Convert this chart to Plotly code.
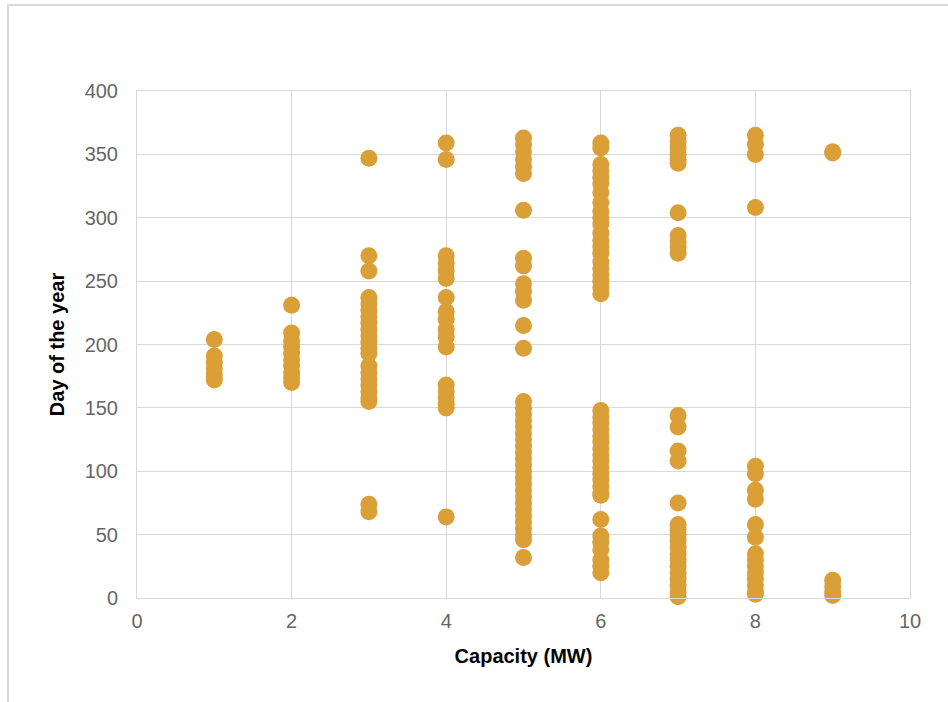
import plotly.graph_objects as go

cap_1 = [204, 191, 186, 181, 176, 172]
cap_2 = [231, 209, 203, 198, 193, 188, 183, 178, 174, 170]
cap_3 = [347, 270, 258, 237, 232, 227, 222, 217, 212, 207, 202, 197, 193,
         183, 178, 173, 168, 163, 158, 155, 74, 68]
cap_4 = [359, 346, 270, 264, 258, 252, 237, 226, 220, 212, 206, 198,
         168, 163, 158, 153, 150, 64]
cap_5 = [363, 358, 352, 346, 340, 335, 306, 268, 262, 248, 242, 235, 215, 197,
         155, 150, 145, 140, 135, 130, 125, 120, 115, 110, 105, 100, 95, 90,
         85, 80, 75, 70, 65, 60, 55, 50, 46, 32]
cap_6 = [359, 355, 342, 337, 332, 327, 320, 312, 305, 300, 295, 288, 282, 277,
         272, 265, 260, 255, 250, 245, 240,
         148, 143, 138, 133, 128, 123, 118, 113, 108, 103, 98, 93, 88, 83, 81,
         62, 49, 44, 38, 30, 25, 20]
cap_7 = [365, 360, 355, 350, 346, 343, 304, 286, 281, 277, 272,
         144, 135, 116, 108, 75, 58, 54, 50, 45, 40, 35, 30, 25, 20, 15, 10, 5, 1]
cap_8 = [365, 358, 350, 308, 104, 98, 85, 78, 58, 48, 35, 30, 25, 20, 15, 10, 5, 3]
cap_9 = [352, 351, 14, 9, 5, 2]

groups = {1: cap_1, 2: cap_2, 3: cap_3, 4: cap_4, 5: cap_5,
          6: cap_6, 7: cap_7, 8: cap_8, 9: cap_9}

xs, ys = [], []
for c, days in groups.items():
    xs += [c] * len(days)
    ys += days

fig = go.Figure(go.Scatter(
    x=xs, y=ys, mode="markers", cliponaxis=False,
    marker=dict(color="#DA9F37", size=17, line=dict(width=0)),
    hoverinfo="x+y", showlegend=False))

tickfont = dict(family="Liberation Sans, Arial", size=20, color="#666666")
titlefont = dict(family="Liberation Sans, Arial", size=20, color="black")
grid = "#D9D9D9"

fig.update_layout(
    width=948, height=702,
    margin=dict(l=137, r=38, t=91, b=104),
    paper_bgcolor="white", plot_bgcolor="white",
    xaxis=dict(range=[0, 10], tickvals=[0, 2, 4, 6, 8, 10], showgrid=True,
               gridcolor=grid, gridwidth=1, zeroline=False, showline=True,
               linecolor=grid, mirror=True, tickfont=tickfont, ticks="",
               ticklabelstandoff=5,
               title=dict(text="<b>Capacity (MW)</b>", standoff=17, font=titlefont)),
    yaxis=dict(range=[0, 400], tickvals=[0, 50, 100, 150, 200, 250, 300, 350, 400],
               showgrid=True, gridcolor=grid, gridwidth=1, zeroline=False,
               showline=True, linecolor=grid, mirror=True, tickfont=tickfont, ticks="",
               ticklabelstandoff=14,
               title=dict(text="<b>Day of the year</b>", standoff=14, font=titlefont)),
    shapes=[dict(type="rect", xref="paper", yref="paper",
                 x0=-0.1669, x1=1.2, y0=-0.3, y1=1.1696,
                 line=dict(color="#D9D9D9", width=2), layer="below")],
)

fig.write_html("out.html", config={"displayModeBar": False},
               post_script="document.body.style.margin='0';document.body.style.padding='0';")
